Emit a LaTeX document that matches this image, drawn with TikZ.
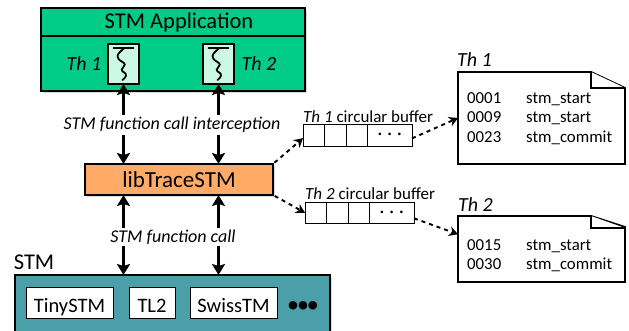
\documentclass[tikz,border=0pt]{standalone}
\usepackage{fontspec}
\setmainfont{Carlito}
\usetikzlibrary{arrows.meta,shadows,calc}
\definecolor{appgreen}{HTML}{00CC88}
\definecolor{mint}{HTML}{CBF9E3}
\definecolor{libor}{HTML}{FFAA66}
\definecolor{stmteal}{HTML}{4A9FA8}
\tikzset{
  shade box/.style={draw=black,line width=2pt,outer sep=0pt,inner sep=0pt,anchor=north west,
    drop shadow={shadow xshift=1.5pt,shadow yshift=-1.5pt,opacity=.3}},
  threadbox/.style={draw=black,line width=1.6pt,fill=mint,outer sep=0pt,inner sep=0pt,anchor=north west,minimum width=31pt,minimum height=40pt},
  implbox/.style={draw=black,line width=.8pt,fill=white,outer sep=0pt,inner sep=0pt,anchor=north west,minimum height=31pt,text height=19pt,text depth=0pt,font=\fontsize{20.5}{22}\selectfont},
  cell/.style={draw=black,line width=.8pt,fill=white,outer sep=0pt,inner sep=0pt,anchor=north west,minimum height=21.5pt,minimum width=21.5pt},
  bigarrow/.style={line width=2.6pt,{Stealth[length=11pt,width=13pt,inset=2pt]}-{Stealth[length=11pt,width=13pt,inset=2pt]}},
  dasharrow/.style={line width=1.9pt,dash pattern=on 4pt off 4pt,-{Stealth[length=9pt,width=10pt]}},
  biglabel/.style={font=\fontsize{22.5}{24}\selectfont,inner sep=0pt},
  itlabel/.style={font=\fontsize{18}{20}\selectfont\itshape,fill=white,inner sep=2pt},
  smalllabel/.style={font=\fontsize{17}{18}\selectfont,inner sep=0pt,anchor=base west},
  doctext/.style={font=\fontsize{16.8}{18}\selectfont,inner sep=0pt,anchor=base west},
  docbody/.style={draw=black,line width=1.9pt,line join=miter,fill=white},
  docframe/.style={inner sep=0pt,outer sep=0pt,anchor=north west},
  squig/.style={line width=1.8pt,line cap=round},
  thlabel/.style={font=\fontsize{20}{22}\selectfont\itshape,inner sep=0pt},
  blobs/.style={font=\fontsize{7.5}{8}\selectfont},
}
\newcommand{\tripledot}[1]{\textbullet\kern#1\textbullet\kern#1\textbullet}
\begin{document}
\begin{tikzpicture}[x=1pt,y=-1pt]
\useasboundingbox (0,0) rectangle (629,330);
% STM application
\node[shade box,fill=appgreen,minimum width=264pt,minimum height=83pt] (app) at (41,8) {};
\draw[line width=1.6pt] (41,36) -- (305,36);
\node[biglabel] (apptitle) at (179,22) {STM Application};
\node[threadbox] (th1) at (108,44) {};
\node[threadbox] (th2) at (203,44) {};
\foreach \t in {th1,th2}{
  \draw[squig] ($(\t.north)+(-10,4)$) -- ($(\t.north)+(10,4)$);
  \draw[squig] ($(\t.north)+(1,4)$) .. controls ($(\t.north)+(-8,11)$) and ($(\t.north)+(-8,14)$) .. ($(\t.north)+(-1,18)$)
     .. controls ($(\t.north)+(6,22)$) and ($(\t.north)+(-6,24)$) .. ($(\t.north)+(0,28)$)
     .. controls ($(\t.north)+(4,30)$) and ($(\t.north)+(3,33)$) .. ($(\t.north)+(-1,36)$);
}
\node[thlabel] (th1lab) at (84,64) {Th 1};
\node[thlabel] (th2lab) at (259,64) {Th 2};
% libTraceSTM
\node[shade box,fill=libor,minimum width=188pt,minimum height=31pt,text height=15pt,text depth=0pt,font=\fontsize{23}{25}\selectfont] (lib) at (85,164) {libTraceSTM};
% STM
\node[shade box,fill=stmteal,minimum width=315pt,minimum height=70pt] (stm) at (15,275) {};
\node[biglabel] (stmlab) at (34,262) {STM};
\node[implbox,minimum width=87pt] (tiny) at (26,287) {TinySTM};
\node[implbox,minimum width=46pt] (tl) at (129,287) {TL2};
\node[implbox,minimum width=87pt] (swiss) at (190,287) {SwissTM};
\node[font=\fontsize{24}{24}\selectfont,inner sep=0pt] (dots) at (303,307) {\tripledot{-2pt}};
% vertical arrows
\draw[bigarrow] (th1.south) -- (th1.south |- lib.north);
\draw[bigarrow] (th2.south) -- (th2.south |- lib.north);
\draw[bigarrow] (th1.south |- lib.south) -- (th1.south |- stm.north);
\draw[bigarrow] (th2.south |- lib.south) -- (th2.south |- stm.north);
\node[itlabel] (intercept) at (172,125) {STM function call interception};
\node[itlabel] (call) at (173,237) {STM function call};
% buffers
\node[smalllabel] (b1lab) at (303,122) {\textit{Th 1} circular buffer};
\node[cell] (b1a) at (303,124.5) {};
\node[cell] (b1b) at (324.5,124.5) {};
\node[cell] (b1c) at (346,124.5) {};
\node[cell,minimum width=44.5pt,blobs] (b1d) at (367.5,124.5) {\tripledot{6pt}};
\node[smalllabel] (b2lab) at (305,199) {\textit{Th 2} circular buffer};
\node[cell] (b2a) at (305,202) {};
\node[cell] (b2b) at (326.5,202) {};
\node[cell] (b2c) at (348,202) {};
\node[cell,minimum width=44.5pt,blobs] (b2d) at (369.5,202) {\tripledot{6pt}};
% documents
\node[docframe,minimum width=167pt,minimum height=92pt] (doc1) at (458,72) {};
\draw[docbody] (doc1.north west) -- (591,72) -- (625,88) -- (doc1.south east) -- (doc1.south west) -- cycle;
\draw[docbody] (591,72) -- (591,88) -- (625,88);
\node[thlabel,anchor=base west] (d1lab) at (457,66) {Th 1};
\node[doctext] (d1a) at (467,103) {0001};
\node[doctext] (d1b) at (467,122) {0009};
\node[doctext] (d1c) at (467,142) {0023};
\node[doctext] (d1d) at (526,103) {stm\_start};
\node[doctext] (d1e) at (526,122) {stm\_start};
\node[doctext] (d1f) at (526,142) {stm\_commit};
\node[docframe,minimum width=167pt,minimum height=66pt] (doc2) at (458,216) {};
\draw[docbody] (doc2.north west) -- (591,216) -- (625,227) -- (doc2.south east) -- (doc2.south west) -- cycle;
\draw[docbody] (591,216) -- (591,228) -- (625,228);
\node[thlabel,anchor=base west] (d2lab) at (458,211) {Th 2};
\node[doctext] (d2a) at (467,250) {0015};
\node[doctext] (d2b) at (467,269) {0030};
\node[doctext] (d2c) at (526,250) {stm\_start};
\node[doctext] (d2d) at (526,269) {stm\_commit};
% dashed connectors
\draw[dasharrow,shorten <=2pt] (lib.north east) -- (b1a.195);
\draw[dasharrow,shorten <=2pt] (lib.south east) -- (b2a.west);
\draw[dasharrow] (b1d.-8) -- (doc1.west);
\draw[dasharrow] (b2d.-14) -- (doc2.170);
\end{tikzpicture}
\end{document}
